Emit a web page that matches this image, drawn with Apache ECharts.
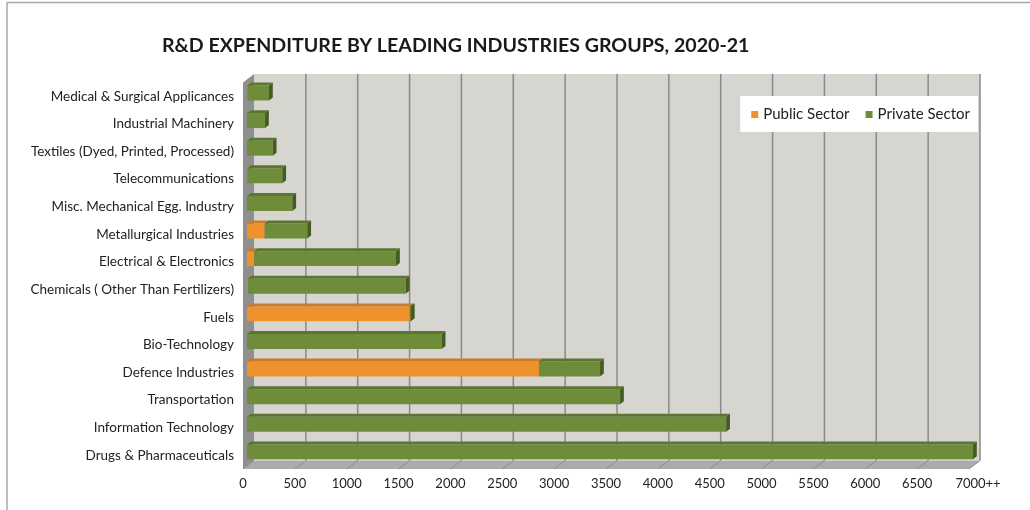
<!DOCTYPE html>
<html>
<head>
<meta charset="utf-8">
<script src="https://cdn.jsdelivr.net/npm/echarts@6/dist/echarts.min.js"></script>
<style>
  html, body { margin: 0; padding: 0; background: #fff; }
  #chart { width: 1030px; height: 510px; }
</style>
</head>
<body>
<div id="chart"></div>
<script>
// Industry groups, listed top to bottom
const categories = [
  'Medical & Surgical Applicances',
  'Industrial Machinery',
  'Textiles (Dyed, Printed, Processed)',
  'Telecommunications',
  'Misc. Mechanical Egg. Industry',
  'Metallurgical Industries',
  'Electrical & Electronics',
  'Chemicals ( Other Than Fertilizers)',
  'Fuels',
  'Bio-Technology',
  'Defence Industries',
  'Transportation',
  'Information Technology',
  'Drugs & Pharmaceuticals'
];

// R&D expenditure (Rs. crore)
const publicSector  = [5, 0, 0, 5, 0, 170, 68, 8, 1570, 0, 2815, 0, 0, 0];
const privateSector = [207, 174, 248, 335, 437, 411, 1369, 1522, 10, 1877, 589, 3597, 4620, 7000];

// value axis ticks and their labels
const tickValues = [0, 500, 1000, 1500, 2000, 2500, 3000, 3500, 4000, 4500, 5000, 5500, 6000, 6500, 7000];
const tickLabels = ['0', '500', '1000', '1500', '2000', '2500', '3000', '3500', '4000', '4500', '5000', '5500', '6000', '6500', '7000++'];

const seriesNames = ['Public Sector', 'Private Sector'];

// depth offsets for the pseudo-3D box and bars
const WALL_DX = 11, WALL_DY = -8.5;
const BAR_SHIFT_X = 4, BAR_SHIFT_Y = -3.3;
const BAR_DX = 3.8, BAR_DY = -3;

const palette = {
  public:  { front: '#ef922e', top: '#c97a2c', side: '#b36a22' },
  private: { front: '#6f8c3b', top: '#5a7630', side: '#435c22' }
};

const FONT = 'Lato, "Open Sans", sans-serif';

// stacked segments: [category index, start, end]
const publicSegs = publicSector.map((v, i) => [i, 0, v]).filter(d => d[2] > 0);
const privateSegs = privateSector.map((v, i) => [i, publicSector[i], publicSector[i] + v]).filter(d => d[2] > d[1]);

function renderBox(params, api) {
  const cs = params.coordSys;
  const x0 = cs.x, x1 = cs.x + cs.width, y0 = cs.y, y1 = cs.y + cs.height;
  const children = [];
  // back wall
  children.push({ type: 'rect', shape: { x: x0 + WALL_DX, y: y0 + WALL_DY, width: cs.width, height: cs.height },
    style: { fill: '#d6d5d0' } });
  // left side wall
  children.push({ type: 'polygon', shape: { points: [[x0, y0], [x0 + WALL_DX, y0 + WALL_DY], [x0 + WALL_DX, y1 + WALL_DY], [x0, y1]] },
    style: { fill: '#8f8f8f' } });
  // floor
  children.push({ type: 'polygon', shape: { points: [[x0, y1], [x1, y1], [x1 + WALL_DX, y1 + WALL_DY], [x0 + WALL_DX, y1 + WALL_DY]] },
    style: { fill: '#ababab' } });
  tickValues.forEach(v => {
    const x = api.coord([v, 0])[0];
    if (v > 0) {
      children.push({ type: 'line', shape: { x1: x + WALL_DX, y1: y0 + WALL_DY, x2: x + WALL_DX, y2: y1 + WALL_DY },
        style: { stroke: '#8a8a8a', lineWidth: 1.5 } });
    }
    children.push({ type: 'line', shape: { x1: x, y1: y1, x2: x + WALL_DX, y2: y1 + WALL_DY },
      style: { stroke: '#8c8c8c', lineWidth: 1 } });
  });
  return { type: 'group', children: children };
}

function makeBarRenderer(colors) {
  return function (params, api) {
    const cat = api.value(0);
    const p0 = api.coord([api.value(1), cat]);
    const p1 = api.coord([api.value(2), cat]);
    const band = api.size([0, 1])[1];
    const bh = band * 0.54;
    const xs = p0[0] + BAR_SHIFT_X, xe = p1[0] + BAR_SHIFT_X;
    const yc = p0[1] + BAR_SHIFT_Y;
    const yt = yc - bh / 2, yb = yc + bh / 2;
    return {
      type: 'group',
      children: [
        { type: 'rect', shape: { x: xs, y: yt, width: xe - xs, height: bh }, style: { fill: colors.front } },
        { type: 'polygon', shape: { points: [[xs, yt], [xe, yt], [xe + BAR_DX, yt + BAR_DY], [xs + BAR_DX, yt + BAR_DY]] },
          style: { fill: colors.top } },
        { type: 'polygon', shape: { points: [[xe, yt], [xe + BAR_DX, yt + BAR_DY], [xe + BAR_DX, yb + BAR_DY], [xe, yb]] },
          style: { fill: colors.side } }
      ]
    };
  };
}

const chart = echarts.init(document.getElementById('chart'), null, { renderer: 'canvas' });

chart.setOption({
  animation: false,
  backgroundColor: '#fff',
  textStyle: { fontFamily: FONT },
  title: {
    text: 'R&D EXPENDITURE BY LEADING INDUSTRIES GROUPS, 2020-21',
    left: 157, top: 31,
    textStyle: { fontFamily: FONT, fontSize: 19.6, fontWeight: 'bold', color: '#1a1a1a' }
  },
  legend: {
    data: seriesNames,
    right: 52, top: 96,
    backgroundColor: '#ffffff',
    padding: [11, 8, 10, 11],
    icon: 'rect', itemWidth: 7, itemHeight: 7, itemGap: 16,
    textStyle: { fontFamily: FONT, fontSize: 15, color: '#222' },
    selectedMode: false
  },
  grid: { left: 243, right: 61, top: 82.5, bottom: 41 },
  xAxis: {
    type: 'value', min: 0, max: 7000, interval: 500,
    axisLine: { show: false }, axisTick: { show: false }, splitLine: { show: false },
    axisLabel: {
      margin: 8, fontSize: 13, color: '#222', fontFamily: FONT,
      formatter: v => {
        const s = tickLabels[tickValues.indexOf(v)];
        return v === 7000 ? '{last|' + s + '}' : s;
      },
      rich: { last: { fontSize: 13, color: '#222', fontFamily: FONT, padding: [0, 0, 0, 18] } }
    }
  },
  yAxis: {
    type: 'category', data: categories, inverse: true,
    axisLine: { show: false }, axisTick: { show: false },
    axisLabel: { margin: 9, fontSize: 13.5, color: '#222', fontFamily: FONT }
  },
  graphic: [
    { type: 'line', shape: { x1: 7, y1: 2.5, x2: 1030, y2: 2.5 }, style: { stroke: '#a9a9a9', lineWidth: 1.5 } },
    { type: 'line', shape: { x1: 7, y1: 2.5, x2: 7, y2: 510 }, style: { stroke: '#a9a9a9', lineWidth: 1.5 } }
  ],
  series: [
    { type: 'custom', name: 'box', silent: true, z: 1, data: [[0, 0, 0]],
      encode: { x: [1, 2], y: 0 }, renderItem: renderBox },
    { type: 'custom', name: seriesNames[0], z: 2, itemStyle: { color: palette.public.front },
      data: publicSegs, encode: { x: [1, 2], y: 0 }, renderItem: makeBarRenderer(palette.public) },
    { type: 'custom', name: seriesNames[1], z: 3, itemStyle: { color: palette.private.front },
      data: privateSegs, encode: { x: [1, 2], y: 0 }, renderItem: makeBarRenderer(palette.private) }
  ]
});
</script>
</body>
</html>
